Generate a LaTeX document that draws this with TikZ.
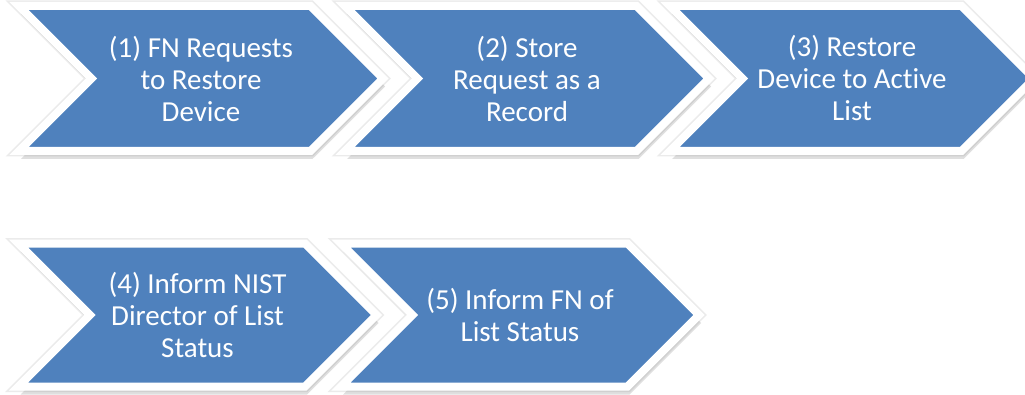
\documentclass[tikz,border=0pt]{standalone}
\usepackage{fontspec}
\setmainfont{Carlito}[Ligatures=NoCommon]
\usepackage{tikz}
\usetikzlibrary{shapes.symbols, shadows}
\definecolor{stepblue}{RGB}{79, 129, 189}

\begin{document}
\begin{tikzpicture}[
    x=1pt, y=1pt,
    chevron/.style={signal, signal from=west, signal to=east, signal pointer angle=90,
        fill=stepblue, draw=white, line width=8pt, inner sep=0pt,
        text=white, align=center, font=\fontsize{29}{32}\selectfont,
        preaction={draw=black!8, line width=11pt},
        drop shadow={shadow xshift=2pt, shadow yshift=-8pt, opacity=0.25}},
    toprow/.style={chevron, minimum width=364pt, minimum height=145pt},
    botrow/.style={chevron, minimum width=358pt, minimum height=143pt}
]
    \useasboundingbox (0, 0) rectangle (1025, 394);

    % Top row: steps 1 to 3
    \node[toprow] (request) at (201, 315.5) {(1) FN Requests\\to Restore\\Device};
    \node[toprow] (store) at (527, 315.5) {(2) Store\\Request as a\\Record};
    \node[toprow] (restore) at (852, 315.5) {(3) Restore\\Device to Active\\List};

    % Bottom row: steps 4 and 5
    \node[botrow] (director) at (197.5, 79) {(4) Inform NIST\\Director of List\\Status};
    \node[botrow] (inform) at (520, 79) {(5) Inform FN of\\List Status};

\end{tikzpicture}
\end{document}
